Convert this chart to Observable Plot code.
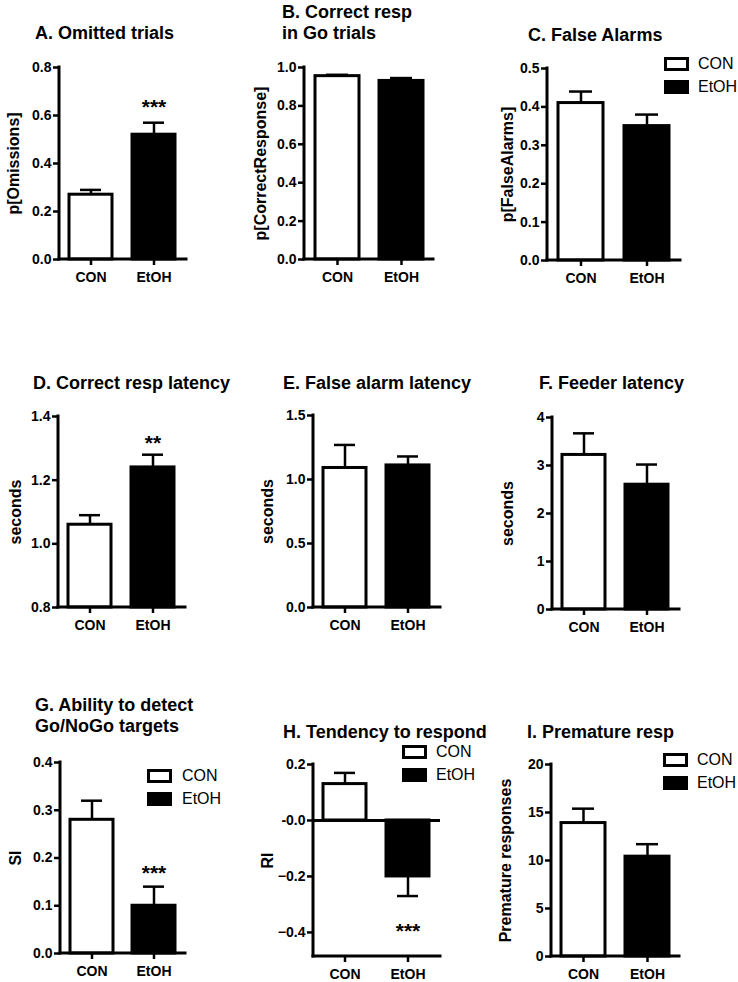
<!DOCTYPE html>
<html>
<head>
<meta charset="utf-8">
<script src="https://cdn.jsdelivr.net/npm/d3@7"></script>
<script src="https://cdn.jsdelivr.net/npm/@observablehq/plot@0.6"></script>
<style>
  html, body { margin: 0; padding: 0; background: #fff; }
  #root { position: relative; width: 738px; height: 982px; overflow: hidden; font-family: "Liberation Sans", Arial, sans-serif; }
  .title { position: absolute; font-weight: bold; font-size: 18px; line-height: 21px; white-space: nowrap; color: #000; }
  .leg { position: absolute; font-size: 16px; line-height: 14px; white-space: nowrap; color: #000; }
  .box { position: absolute; box-sizing: border-box; width: 25px; height: 14px; border: 3px solid #000; }
  .panel { position: absolute; }
</style>
</head>
<body>
<div id="root"></div>
<script>
const groups = ["CON", "EtOH"];

// A. Omitted trials
const omittedMean = [0.27, 0.52];
const omittedSem = [0.02, 0.05];
// B. Correct resp in Go trials
const correctMean = [0.955, 0.93];
const correctSem = [0.007, 0.015];
// C. False alarms
const falseAlarmMean = [0.41, 0.35];
const falseAlarmSem = [0.03, 0.03];
// D. Correct resp latency
const respLatMean = [1.06, 1.24];
const respLatSem = [0.03, 0.04];
// E. False alarm latency
const faLatMean = [1.09, 1.11];
const faLatSem = [0.18, 0.07];
// F. Feeder latency
const feederMean = [3.22, 2.6];
const feederSem = [0.45, 0.42];
// G. SI
const siMean = [0.28, 0.10];
const siSem = [0.04, 0.04];
// H. RI
const riMean = [0.13, -0.20];
const riSem = [0.04, 0.07];
// I. Premature responses
const premMean = [13.9, 10.4];
const premSem = [1.5, 1.3];

const FONT = "'Liberation Sans', Arial, sans-serif";
const f1 = d3.format(".1f");

const panels = [
  {title: ["A. Omitted trials"], tx: 35, ty: 33, axisX: 59, xRight: 186, yTop: 67, yBottom: 259,
   domain: [0, 0.8], ticks: [0, 0.2, 0.4, 0.6, 0.8], fmt: f1, mean: omittedMean, sem: omittedSem,
   ylabel: "p[Omissions]", ylabelX: 13, stars: ["", "***"], starDy: -15},
  {title: ["B. Correct resp", "in Go trials"], tx: 282, ty: 12, axisX: 304, xRight: 433, yTop: 67, yBottom: 259,
   domain: [0, 1], ticks: [0, 0.2, 0.4, 0.6, 0.8, 1.0], fmt: f1, mean: correctMean, sem: correctSem,
   ylabel: "p[CorrectResponse]", ylabelX: 260},
  {title: ["C. False Alarms"], tx: 528, ty: 35, axisX: 547, xRight: 680, yTop: 68, yBottom: 260,
   domain: [0, 0.5], ticks: [0, 0.1, 0.2, 0.3, 0.4, 0.5], fmt: f1, mean: falseAlarmMean, sem: falseAlarmSem,
   ylabel: "p[FalseAlarms]", ylabelX: 507, legend: {x: 664, y: 57, lx: 698}},
  {title: ["D. Correct resp latency"], tx: 33, ty: 383, axisX: 58, xRight: 185, yTop: 416, yBottom: 607,
   domain: [0.8, 1.4], ticks: [0.8, 1.0, 1.2, 1.4], fmt: f1, mean: respLatMean, sem: respLatSem,
   ylabel: "seconds", ylabelX: 15, stars: ["", "**"], starDy: -11},
  {title: ["E. False alarm latency"], tx: 283, ty: 383, axisX: 313, xRight: 440, yTop: 415, yBottom: 607,
   domain: [0, 1.5], ticks: [0, 0.5, 1.0, 1.5], fmt: f1, mean: faLatMean, sem: faLatSem,
   ylabel: "seconds", ylabelX: 267},
  {title: ["F. Feeder latency"], tx: 539, ty: 383, axisX: 552, xRight: 679, yTop: 417, yBottom: 609,
   domain: [0, 4], ticks: [0, 1, 2, 3, 4], fmt: d3.format("d"), mean: feederMean, sem: feederSem,
   ylabel: "seconds", ylabelX: 507},
  {title: ["G. Ability to detect", "Go/NoGo targets"], tx: 35, ty: 705, axisX: 60, xRight: 185, yTop: 762, yBottom: 953,
   domain: [0, 0.4], ticks: [0, 0.1, 0.2, 0.3, 0.4], fmt: f1, mean: siMean, sem: siSem,
   ylabel: "SI", ylabelX: 15, stars: ["", "***"], starDy: -13, legend: {x: 147, y: 769, lx: 182}},
  {title: ["H. Tendency to respond"], tx: 283, ty: 732, axisX: 313, xRight: 440, yTop: 764, yBottom: 956,
   domain: [-0.486, 0.2], ticks: [-0.4, -0.2, 0, 0.2], fmt: d => d === 0 ? "-0.0" : f1(d), mean: riMean, sem: riSem,
   ylabel: "RI", ylabelX: 267, stars: ["", "***"], starDy: 35, zeroLine: true, legend: {x: 402, y: 745, lx: 436}},
  {title: ["I. Premature resp"], tx: 527, ty: 732, axisX: 551, xRight: 679, yTop: 764, yBottom: 956,
   domain: [0, 20], ticks: [0, 5, 10, 15, 20], fmt: d3.format("d"), mean: premMean, sem: premSem,
   ylabel: "Premature responses", ylabelX: 505, legend: {x: 663, y: 753, lx: 697}}
];

const root = document.getElementById("root");

function addDiv(cls, left, top, text, extra) {
  const el = document.createElement("div");
  el.className = cls;
  el.style.left = left + "px";
  el.style.top = top + "px";
  if (text != null) el.textContent = text;
  if (extra) Object.assign(el.style, extra);
  root.appendChild(el);
  return el;
}

// axis lines (left + bottom) drawn from the plot's own frame dimensions
function axisLines(index, scales, values, dimensions) {
  const {width, height, marginLeft, marginRight, marginTop, marginBottom} = dimensions;
  const g = d3.create("svg:g").attr("stroke", "black").attr("stroke-width", 3).attr("stroke-linecap", "square");
  g.append("line").attr("x1", marginLeft).attr("x2", marginLeft).attr("y1", marginTop).attr("y2", height - marginBottom);
  g.append("line").attr("x1", marginLeft).attr("x2", width - marginRight).attr("y1", height - marginBottom).attr("y2", height - marginBottom);
  return g.node();
}

for (const p of panels) {
  const data = groups.map((g, i) => ({
    group: g,
    mean: p.mean[i],
    end: p.mean[i] + Math.sign(p.mean[i]) * p.sem[i],
    star: p.stars ? p.stars[i] : ""
  }));
  const base = p.domain[0] > 0 ? p.domain[0] : 0;
  const ml = 62, mt = 15, mr = 12, mb = 32;
  const width = (p.xRight - p.axisX) + ml + mr;
  const height = (p.yBottom - p.yTop) + mt + mb;
  const marks = [
    Plot.barY(data, {x: "group", y1: () => base, y2: "mean", fill: "group", stroke: "black", strokeWidth: 3}),
    Plot.ruleX(data, {x: "group", y1: "mean", y2: "end", stroke: "black", strokeWidth: 2.5}),
    Plot.tickY(data, {x: "group", y: "end", stroke: "black", strokeWidth: 2.5, insetLeft: 11, insetRight: 11}),
    Plot.axisY({ticks: p.ticks, tickFormat: p.fmt, tickSize: 6, tickPadding: 2, fontSize: 14, fontWeight: "bold", strokeWidth: 2.5, label: null}),
    Plot.axisX({tickSize: 6, tickPadding: 7, fontSize: 14, fontWeight: "bold", strokeWidth: 2.5, label: null}),
    axisLines,
    Plot.text([p.ylabel], {frameAnchor: "left", textAnchor: "middle", rotate: -90, dx: -(p.axisX - p.ylabelX), fontSize: 16, fontWeight: "bold"})
  ];
  if (p.zeroLine) marks.push(Plot.ruleY([0], {strokeWidth: 3}));
  if (p.stars) marks.push(Plot.text(data.filter(d => d.star), {x: "group", y: "end", text: "star", dy: p.starDy, fontSize: 21, fontWeight: "bold"}));
  const chart = Plot.plot({
    width, height,
    marginLeft: ml, marginTop: mt, marginRight: mr, marginBottom: mb,
    style: {fontFamily: FONT, background: "transparent", overflow: "visible", color: "black"},
    x: {domain: groups, paddingInner: 0.3125, paddingOuter: 0.156, label: null},
    y: {domain: p.domain, label: null},
    color: {domain: groups, range: ["white", "black"]},
    marks
  });
  chart.classList.add("panel");
  chart.style.left = (p.axisX - ml) + "px";
  chart.style.top = (p.yTop - mt) + "px";
  chart.style.position = "absolute";
  root.appendChild(chart);

  p.title.forEach((t, i) => addDiv("title", p.tx, p.ty - 10.5 + i * 21, t));

  if (p.legend) {
    const L = p.legend;
    groups.forEach((g, i) => {
      const y = L.y + i * 22.5;
      addDiv("box", L.x, y, null, {background: i === 0 ? "white" : "black"});
      addDiv("leg", L.lx, y, g);
    });
  }
}
</script>
</body>
</html>
